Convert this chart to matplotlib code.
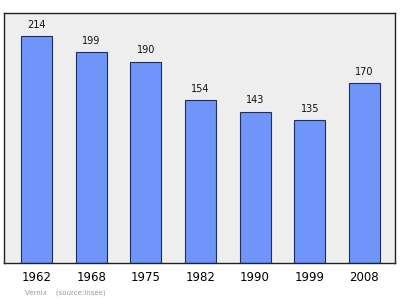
import matplotlib
matplotlib.use("Agg")
import matplotlib.pyplot as plt

years = ["1962", "1968", "1975", "1982", "1990", "1999", "2008"]
population = [214, 199, 190, 154, 143, 135, 170]

fig = plt.figure(figsize=(4.0, 2.99), dpi=100)
W, H = 400, 299
ax = fig.add_axes([4 / W, 1 - 263 / H, (395 - 4) / W, (263 - 13) / H])
ax.set_facecolor("#eeeeee")
x = list(range(len(years)))
ax.bar(x, population, width=0.57, color="#6f94fa", edgecolor="#1f2f5a", linewidth=0.8, zorder=2)
for xi, v in zip(x, population):
    ax.text(xi, v + 6, str(v), ha="center", va="bottom", fontsize=7, color="#111111")
ax.set_xlim(-0.595, 6.56)
ax.set_ylim(0, 236)
ax.set_yticks([])
ax.set_xticks(x)
ax.set_xticklabels(years, fontsize=8.5)
ax.tick_params(axis="x", length=0, pad=6)
for s in ax.spines.values():
    s.set_color("#222222")
    s.set_linewidth(1.0)
fig.text(25 / W, 1 - 293 / H, "Vernix    (source:Insee)", fontsize=5, color="#999999", va="center")
fig.savefig("out.png", dpi=100)
